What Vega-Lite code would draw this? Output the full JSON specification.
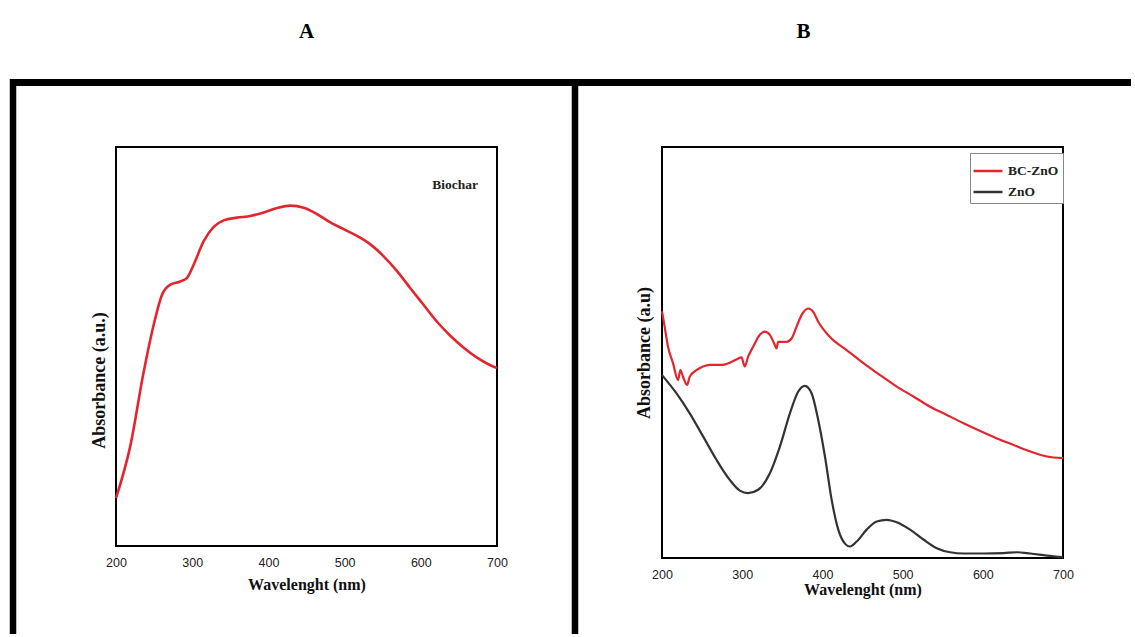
{
  "$schema": "https://vega.github.io/schema/vega-lite/v6.json",
  "background": "white",
  "padding": {"left": 8, "top": 19, "right": 0, "bottom": 0},
  "autosize": {"type": "pad"},
  "bounds": "flush",
  "spacing": 165,
  "config": {
    "view": {"stroke": "black", "strokeWidth": 2},
    "axis": {
      "grid": false,
      "ticks": false,
      "domain": false,
      "labelFlush": false,
      "labelFont": "Liberation Sans",
      "labelFontSize": 12.5,
      "labelColor": "#222222",
      "titleFont": "Liberation Serif",
      "titleFontWeight": "bold",
      "titleFontSize": 16,
      "titleColor": "#111111"
    },
    "title": {"font": "Liberation Serif", "fontSize": 21, "fontWeight": "bold", "color": "black", "anchor": "middle", "frame": "group", "baseline": "alphabetic"}
  },
  "hconcat": [
    {
      "width": 381,
      "height": 399,
      "title": {"text": "A", "offset": 34},
      "data": {"values": [
        {"wavelength": 200, "absorbance": 0.120},
        {"wavelength": 218.8, "absorbance": 0.251},
        {"wavelength": 236.3, "absorbance": 0.436},
        {"wavelength": 249.4, "absorbance": 0.554},
        {"wavelength": 260.4, "absorbance": 0.630},
        {"wavelength": 271.3, "absorbance": 0.655},
        {"wavelength": 284.4, "absorbance": 0.663},
        {"wavelength": 293.2, "absorbance": 0.672},
        {"wavelength": 301.9, "absorbance": 0.705},
        {"wavelength": 315.1, "absorbance": 0.764},
        {"wavelength": 328.2, "absorbance": 0.800},
        {"wavelength": 341.3, "absorbance": 0.816},
        {"wavelength": 358.8, "absorbance": 0.823},
        {"wavelength": 376.3, "absorbance": 0.827},
        {"wavelength": 393.8, "absorbance": 0.836},
        {"wavelength": 411.3, "absorbance": 0.847},
        {"wavelength": 428.8, "absorbance": 0.853},
        {"wavelength": 446.3, "absorbance": 0.848},
        {"wavelength": 463.8, "absorbance": 0.832},
        {"wavelength": 481.3, "absorbance": 0.811},
        {"wavelength": 498.8, "absorbance": 0.794},
        {"wavelength": 516.3, "absorbance": 0.777},
        {"wavelength": 533.8, "absorbance": 0.756},
        {"wavelength": 551.3, "absorbance": 0.726},
        {"wavelength": 568.8, "absorbance": 0.689},
        {"wavelength": 586.3, "absorbance": 0.646},
        {"wavelength": 603.8, "absorbance": 0.604},
        {"wavelength": 621.3, "absorbance": 0.562},
        {"wavelength": 638.7, "absorbance": 0.527},
        {"wavelength": 656.3, "absorbance": 0.497},
        {"wavelength": 673.8, "absorbance": 0.472},
        {"wavelength": 691.3, "absorbance": 0.453},
        {"wavelength": 700, "absorbance": 0.446}
      ]},
      "layer": [
        {
          "mark": {"type": "line", "color": "#e3262e", "strokeWidth": 2.6, "interpolate": "monotone"},
          "encoding": {
            "x": {"field": "wavelength", "type": "quantitative",
                  "scale": {"domain": [200, 700], "nice": false, "zero": false},
                  "axis": {"values": [200, 300, 400, 500, 600, 700], "title": "Wavelenght (nm)", "labelPadding": 10, "titlePadding": 8}},
            "y": {"field": "absorbance", "type": "quantitative",
                  "scale": {"domain": [0, 1], "nice": false, "zero": false},
                  "axis": {"labels": false, "title": "Absorbance (a.u.)", "titleFontSize": 18, "titlePadding": 8, "titleY": 233}}
          }
        },
        {
          "data": {"values": [{}]},
          "mark": {"type": "text", "text": "Biochar", "font": "Liberation Serif", "fontWeight": "bold", "fontSize": 13.5, "color": "#222222", "align": "center", "baseline": "middle"},
          "encoding": {"x": {"datum": 644.9, "type": "quantitative"}, "y": {"datum": 0.905, "type": "quantitative"}}
        },
        {
          "data": {"values": [{}]},
          "mark": {"type": "rule", "color": "black", "strokeWidth": 7, "strokeCap": "butt"},
          "encoding": {"x": {"datum": 64.83, "type": "quantitative"}, "x2": {"datum": 802.36}, "y": {"datum": 1.16165, "type": "quantitative"}}
        },
        {
          "data": {"values": [{}]},
          "mark": {"type": "rule", "color": "black", "strokeWidth": 6.5, "strokeCap": "butt"},
          "encoding": {"x": {"datum": 64.83, "type": "quantitative"}, "y": {"datum": 1.17043, "type": "quantitative"}, "y2": {"datum": -0.22055}}
        },
        {
          "data": {"values": [{}]},
          "mark": {"type": "rule", "color": "black", "strokeWidth": 6.5, "strokeCap": "butt"},
          "encoding": {"x": {"datum": 802.36, "type": "quantitative"}, "y": {"datum": 1.17043, "type": "quantitative"}, "y2": {"datum": -0.22055}}
        }
      ]
    },
    {
      "width": 401,
      "height": 411,
      "title": {"text": "B", "dx": -59, "offset": 37},
      "data": {"values": [
        {"series": "BC-ZnO", "wavelength": 200, "absorbance": 0.600},
        {"series": "BC-ZnO", "wavelength": 203.3, "absorbance": 0.563},
        {"series": "BC-ZnO", "wavelength": 207.5, "absorbance": 0.514},
        {"series": "BC-ZnO", "wavelength": 213.7, "absorbance": 0.474},
        {"series": "BC-ZnO", "wavelength": 220, "absorbance": 0.433},
        {"series": "BC-ZnO", "wavelength": 222.9, "absorbance": 0.457},
        {"series": "BC-ZnO", "wavelength": 226.2, "absorbance": 0.441},
        {"series": "BC-ZnO", "wavelength": 231.2, "absorbance": 0.421},
        {"series": "BC-ZnO", "wavelength": 234.6, "absorbance": 0.441},
        {"series": "BC-ZnO", "wavelength": 242.9, "absorbance": 0.457},
        {"series": "BC-ZnO", "wavelength": 251.2, "absorbance": 0.466},
        {"series": "BC-ZnO", "wavelength": 259.5, "absorbance": 0.470},
        {"series": "BC-ZnO", "wavelength": 276.2, "absorbance": 0.470},
        {"series": "BC-ZnO", "wavelength": 284.5, "absorbance": 0.475},
        {"series": "BC-ZnO", "wavelength": 292.8, "absorbance": 0.483},
        {"series": "BC-ZnO", "wavelength": 299.1, "absorbance": 0.488},
        {"series": "BC-ZnO", "wavelength": 303.2, "absorbance": 0.466},
        {"series": "BC-ZnO", "wavelength": 307.4, "absorbance": 0.490},
        {"series": "BC-ZnO", "wavelength": 313.7, "absorbance": 0.514},
        {"series": "BC-ZnO", "wavelength": 322.0, "absorbance": 0.543},
        {"series": "BC-ZnO", "wavelength": 328.2, "absorbance": 0.551},
        {"series": "BC-ZnO", "wavelength": 334.5, "absorbance": 0.543},
        {"series": "BC-ZnO", "wavelength": 340.7, "absorbance": 0.518},
        {"series": "BC-ZnO", "wavelength": 342.8, "absorbance": 0.510},
        {"series": "BC-ZnO", "wavelength": 344.9, "absorbance": 0.526},
        {"series": "BC-ZnO", "wavelength": 355.3, "absorbance": 0.526},
        {"series": "BC-ZnO", "wavelength": 361.5, "absorbance": 0.534},
        {"series": "BC-ZnO", "wavelength": 367.8, "absorbance": 0.563},
        {"series": "BC-ZnO", "wavelength": 374.0, "absorbance": 0.591},
        {"series": "BC-ZnO", "wavelength": 382.3, "absorbance": 0.607},
        {"series": "BC-ZnO", "wavelength": 388.6, "absorbance": 0.599},
        {"series": "BC-ZnO", "wavelength": 394.8, "absorbance": 0.575},
        {"series": "BC-ZnO", "wavelength": 409.4, "absorbance": 0.538},
        {"series": "BC-ZnO", "wavelength": 430.2, "absorbance": 0.506},
        {"series": "BC-ZnO", "wavelength": 451.1, "absorbance": 0.474},
        {"series": "BC-ZnO", "wavelength": 471.9, "absorbance": 0.445},
        {"series": "BC-ZnO", "wavelength": 492.7, "absorbance": 0.417},
        {"series": "BC-ZnO", "wavelength": 513.5, "absorbance": 0.393},
        {"series": "BC-ZnO", "wavelength": 534.3, "absorbance": 0.368},
        {"series": "BC-ZnO", "wavelength": 555.1, "absorbance": 0.348},
        {"series": "BC-ZnO", "wavelength": 576.0, "absorbance": 0.328},
        {"series": "BC-ZnO", "wavelength": 596.8, "absorbance": 0.309},
        {"series": "BC-ZnO", "wavelength": 617.6, "absorbance": 0.291},
        {"series": "BC-ZnO", "wavelength": 638.4, "absorbance": 0.275},
        {"series": "BC-ZnO", "wavelength": 659.2, "absorbance": 0.259},
        {"series": "BC-ZnO", "wavelength": 680.0, "absorbance": 0.247},
        {"series": "BC-ZnO", "wavelength": 700, "absorbance": 0.243},
        {"series": "ZnO", "wavelength": 200, "absorbance": 0.445},
        {"series": "ZnO", "wavelength": 217.9, "absorbance": 0.401},
        {"series": "ZnO", "wavelength": 234.6, "absorbance": 0.352},
        {"series": "ZnO", "wavelength": 251.2, "absorbance": 0.296},
        {"series": "ZnO", "wavelength": 267.9, "absorbance": 0.239},
        {"series": "ZnO", "wavelength": 284.5, "absorbance": 0.190},
        {"series": "ZnO", "wavelength": 297.0, "absorbance": 0.164},
        {"series": "ZnO", "wavelength": 307.4, "absorbance": 0.158},
        {"series": "ZnO", "wavelength": 319.9, "absorbance": 0.166},
        {"series": "ZnO", "wavelength": 334.5, "absorbance": 0.206},
        {"series": "ZnO", "wavelength": 347.0, "absorbance": 0.271},
        {"series": "ZnO", "wavelength": 359.5, "absorbance": 0.352},
        {"series": "ZnO", "wavelength": 369.9, "absorbance": 0.405},
        {"series": "ZnO", "wavelength": 378.2, "absorbance": 0.419},
        {"series": "ZnO", "wavelength": 386.5, "absorbance": 0.401},
        {"series": "ZnO", "wavelength": 394.8, "absorbance": 0.336},
        {"series": "ZnO", "wavelength": 403.2, "absorbance": 0.247},
        {"series": "ZnO", "wavelength": 411.5, "absorbance": 0.142},
        {"series": "ZnO", "wavelength": 419.8, "absorbance": 0.069},
        {"series": "ZnO", "wavelength": 428.1, "absorbance": 0.035},
        {"series": "ZnO", "wavelength": 434.4, "absorbance": 0.028},
        {"series": "ZnO", "wavelength": 442.7, "absorbance": 0.040},
        {"series": "ZnO", "wavelength": 455.2, "absorbance": 0.069},
        {"series": "ZnO", "wavelength": 467.7, "absorbance": 0.089},
        {"series": "ZnO", "wavelength": 480.2, "absorbance": 0.093},
        {"series": "ZnO", "wavelength": 492.7, "absorbance": 0.087},
        {"series": "ZnO", "wavelength": 509.3, "absorbance": 0.069},
        {"series": "ZnO", "wavelength": 526.0, "absorbance": 0.045},
        {"series": "ZnO", "wavelength": 542.6, "absorbance": 0.024},
        {"series": "ZnO", "wavelength": 559.3, "absorbance": 0.014},
        {"series": "ZnO", "wavelength": 576.0, "absorbance": 0.011},
        {"series": "ZnO", "wavelength": 601.0, "absorbance": 0.011},
        {"series": "ZnO", "wavelength": 625.9, "absorbance": 0.012},
        {"series": "ZnO", "wavelength": 642.5, "absorbance": 0.014},
        {"series": "ZnO", "wavelength": 659.2, "absorbance": 0.011},
        {"series": "ZnO", "wavelength": 680.0, "absorbance": 0.006},
        {"series": "ZnO", "wavelength": 700, "absorbance": 0.002}
      ]},
      "layer": [
        {
          "mark": {"type": "line", "strokeWidth": 2.2, "interpolate": "monotone"},
          "encoding": {
            "x": {"field": "wavelength", "type": "quantitative",
                  "scale": {"domain": [200, 700], "nice": false, "zero": false},
                  "axis": {"values": [200, 300, 400, 500, 600, 700], "title": "Wavelenght (nm)", "labelPadding": 10, "titlePadding": 1}},
            "y": {"field": "absorbance", "type": "quantitative",
                  "scale": {"domain": [0, 1], "nice": false, "zero": false},
                  "axis": {"labels": false, "title": "Absorbance (a.u)", "titleFontSize": 18, "titlePadding": 9}},
            "color": {"field": "series", "type": "nominal",
                      "scale": {"domain": ["BC-ZnO", "ZnO"], "range": ["#e3262e", "#333333"]},
                      "legend": {"title": null, "orient": "none", "legendX": 854, "legendY": 6, "symbolType": "M-1.16,0H1.16", "symbolSize": 625, "symbolStrokeWidth": 2.5, "labelFont": "Liberation Serif", "labelFontSize": 13.5, "labelFontWeight": "bold", "labelColor": "#222222", "labelOffset": 6, "strokeColor": "#888888", "fillColor": "white", "padding": 4, "rowPadding": 0}}
          }
        },
        {
          "data": {"values": [{}]},
          "mark": {"type": "rule", "color": "black", "strokeWidth": 7, "strokeCap": "butt"},
          "encoding": {"x": {"datum": 91.52, "type": "quantitative"}, "x2": {"datum": 784.79}, "y": {"datum": 1.15693, "type": "quantitative"}}
        }
      ]
    }
  ]
}
